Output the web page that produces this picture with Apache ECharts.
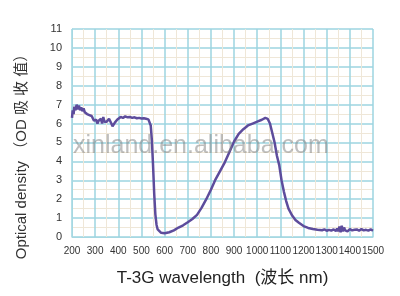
<!DOCTYPE html>
<html><head><meta charset="utf-8">
<script src="https://cdn.jsdelivr.net/npm/echarts@6/dist/echarts.min.js"></script>
<style>html,body{margin:0;padding:0;background:#fff}#c{width:400px;height:296px}</style>
</head><body><div id="c"></div>
<script>
// Data
var wavelength = [200,203,207,210,215,220,225,230,235,240,245,250,255,260,265,270,275,280,285,290,295,300,305,310,315,320,325,330,335,338,340,345,350,355,360,365,370,375,380,385,390,395,400,410,420,430,440,450,460,470,480,490,500,510,520,530,535,540,545,550,555,560,565,570,575,585,600,620,640,660,680,700,720,740,760,780,800,820,840,860,880,900,920,940,960,980,1000,1020,1035,1045,1055,1065,1075,1085,1095,1105,1115,1125,1135,1150,1165,1180,1200,1220,1240,1260,1280,1290,1300,1310,1320,1330,1340,1345,1350,1355,1360,1365,1370,1375,1380,1385,1390,1400,1410,1420,1430,1440,1450,1460,1470,1480,1490,1500];
var opticalDensity = [6.3,6.7,6.5,6.9,6.7,7.0,6.75,6.95,6.7,6.85,6.65,6.8,6.6,6.7,6.5,6.6,6.45,6.5,6.4,6.3,6.15,6.05,6.2,6.0,6.15,6.05,6.25,6.0,6.35,6.45,6.1,6.2,6.1,6.2,6.25,6.15,6.0,5.85,5.9,6.05,6.15,6.2,6.3,6.35,6.3,6.38,6.33,6.35,6.3,6.33,6.28,6.3,6.27,6.28,6.25,6.22,6.15,5.9,5.1,3.8,2.3,1.2,0.65,0.4,0.3,0.22,0.2,0.25,0.35,0.5,0.62,0.78,0.95,1.17,1.55,2.0,2.5,3.05,3.5,3.95,4.5,5.05,5.45,5.7,5.9,6.0,6.1,6.2,6.3,6.25,6.0,5.5,5.0,4.3,3.8,3.0,2.4,1.9,1.5,1.15,0.9,0.75,0.58,0.48,0.42,0.38,0.36,0.4,0.33,0.38,0.34,0.4,0.32,0.45,0.3,0.55,0.25,0.6,0.3,0.5,0.35,0.45,0.3,0.42,0.35,0.38,0.4,0.33,0.42,0.35,0.38,0.34,0.4,0.33,0.3];
var xTicks = {min:200, max:1500, step:100};
var yTicks = {min:0, max:11, step:1};
var xTitle = 'T-3G wavelength  (波长 nm)';
var yTitle = 'Optical density （OD 吸 收 值）';
var watermark = 'xinland.en.alibaba.com';

var pts = wavelength.map(function(w,i){return [w, opticalDensity[i]];});
var chart = echarts.init(document.getElementById('c'), null, {renderer:'canvas'});
var labelFont = {color:'#333', fontSize:11, fontFamily:'Liberation Sans, Arial, sans-serif'};
function fmt(v){return String(v);}
chart.setOption({
  animation:false,
  backgroundColor:'#fff',
  grid:{left:72, right:27, top:29, bottom:59},
  xAxis:{type:'value', min:xTicks.min, max:xTicks.max, interval:xTicks.step,
    name:xTitle, nameLocation:'middle', nameGap:33,
    nameTextStyle:{color:'#222', fontSize:17, fontFamily:'Liberation Sans, Noto Sans CJK SC, sans-serif'},
    axisLine:{show:true, lineStyle:{color:'#a6d8e2', width:1}},
    axisTick:{show:false},
    axisLabel:Object.assign({margin:9, formatter:fmt, showMinLabel:true, showMaxLabel:true, hideOverlap:false}, labelFont, {fontSize:10}),
    splitLine:{show:true, lineStyle:{color:'#9dd5e0', width:1.5}},
    minorTick:{show:false, splitNumber:2},
    minorSplitLine:{show:true, lineStyle:{color:'#efe7d8', width:1}}
  },
  yAxis:{type:'value', min:yTicks.min, max:yTicks.max, interval:yTicks.step,
    axisLine:{show:true, lineStyle:{color:'#a6d8e2', width:1}},
    axisTick:{show:false},
    axisLabel:Object.assign({margin:10, formatter:fmt}, labelFont),
    splitLine:{show:true, lineStyle:{color:'#9dd5e0', width:1.5}},
    minorTick:{show:false, splitNumber:2},
    minorSplitLine:{show:true, lineStyle:{color:'#efe7d8', width:1}}
  },
  graphic:[
    {type:'text', left:73, top:134, z:100,
     style:{text:watermark, fill:'rgba(125,125,125,0.5)', font:'25px Liberation Sans, Arial, sans-serif'}},
    {type:'text', x:22, y:153, rotation:Math.PI/2, z:100,
     style:{text:yTitle, fill:'#333', font:'15px Liberation Sans, Noto Sans CJK SC, sans-serif', align:'center', verticalAlign:'middle'}}
  ],
  series:[{type:'line', data:pts, showSymbol:false, smooth:false,
    lineStyle:{color:'#5d4c9c', width:2.5}, z:3}]
});
</script></body></html>
